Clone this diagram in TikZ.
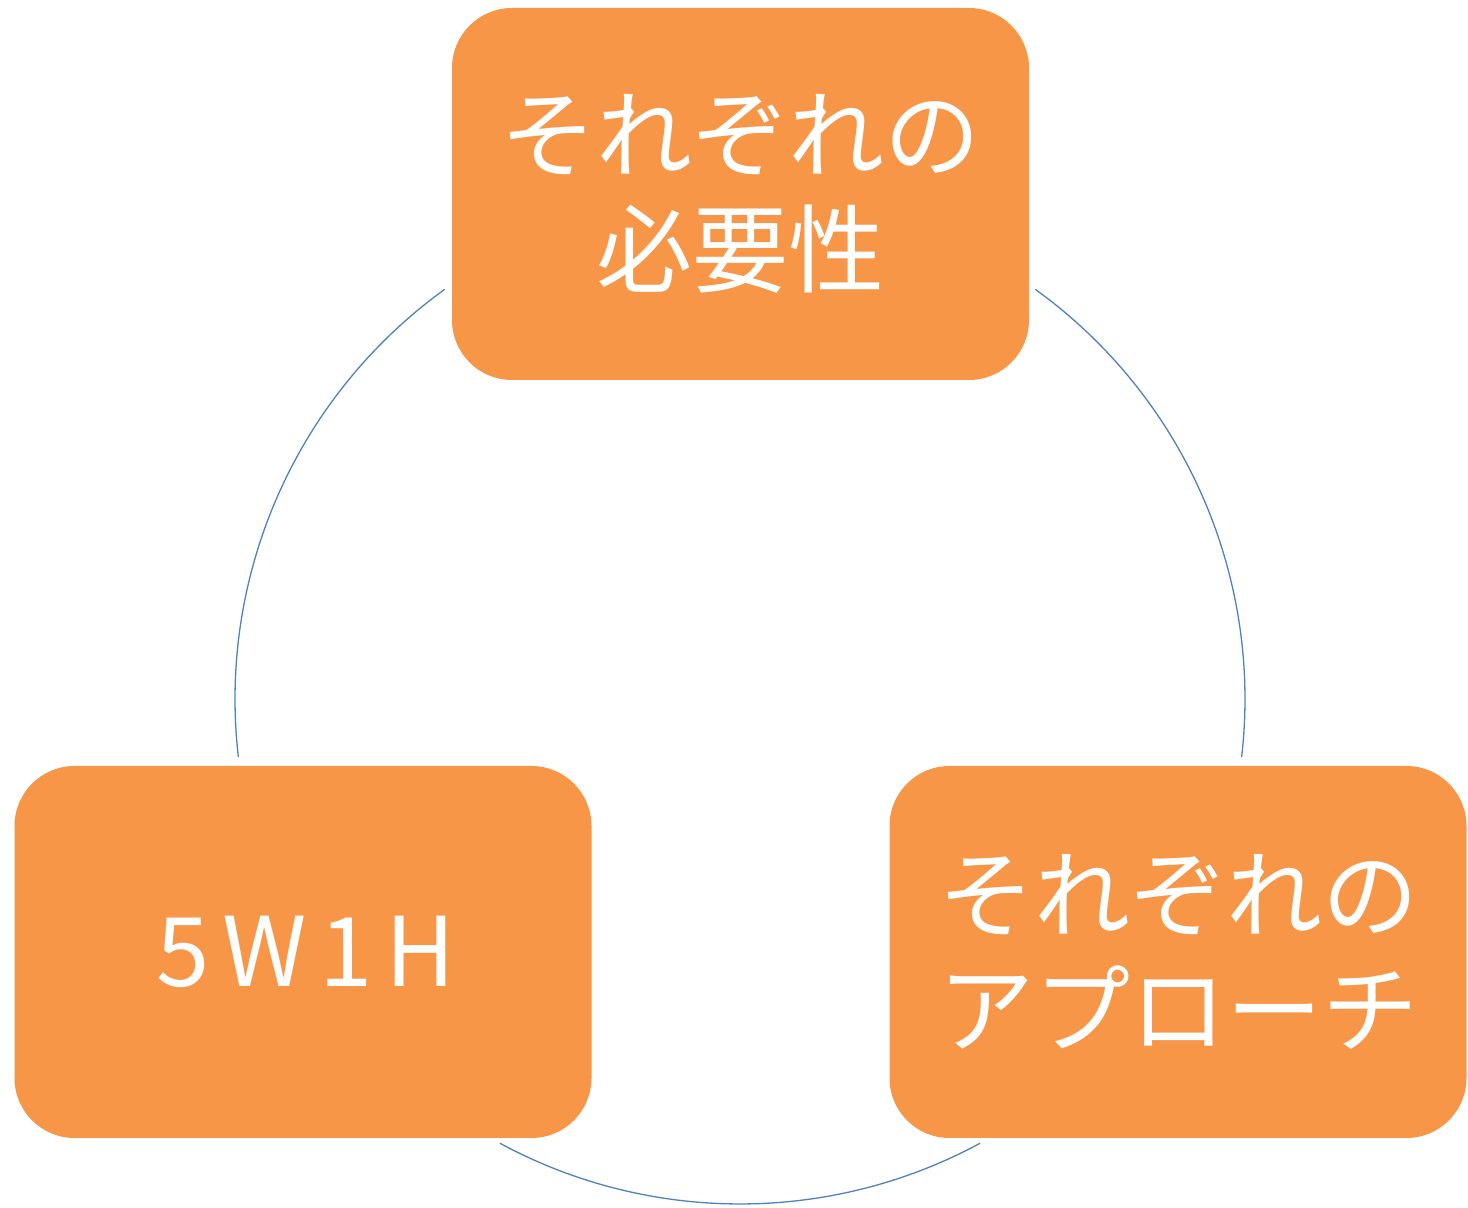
\documentclass[tikz,border=0pt]{standalone}
\usepackage{fontspec}
\setmainfont{Noto Sans CJK JP}
\definecolor{boxfill}{HTML}{F79646}
\definecolor{ringcol}{HTML}{4F81BD}
\tikzset{
  box/.style={fill=boxfill, rounded corners=60pt, minimum width=577pt, minimum height=372pt, inner sep=0pt, text=white, align=center, font=\fontsize{96}{115}\selectfont},
  ring/.style={draw=ringcol, line width=1.3pt}
}
\begin{document}
\begin{tikzpicture}[x=1pt,y=1pt]
\useasboundingbox (0,0) rectangle (1468,1208);
\coordinate (c) at (740,509);
\draw[ring] ([shift={(125.8:505)}]c) arc[start angle=125.8, end angle=186.6, radius=505];
\draw[ring] ([shift={(241.6:505)}]c) arc[start angle=241.6, end angle=298.4, radius=505];
\draw[ring] ([shift={(353.4:505)}]c) arc[start angle=353.4, end angle=414.2, radius=505];
\node[box] (need) at (740.5,1014) {それぞれの\\必要性};
\node[box] (w) at (303,256) {\hspace*{6pt}\addfontfeatures{LetterSpace=13}5W1H};
\node[box] (appr) at (1178,256) {それぞれの\\アプローチ};
\end{tikzpicture}
\end{document}
